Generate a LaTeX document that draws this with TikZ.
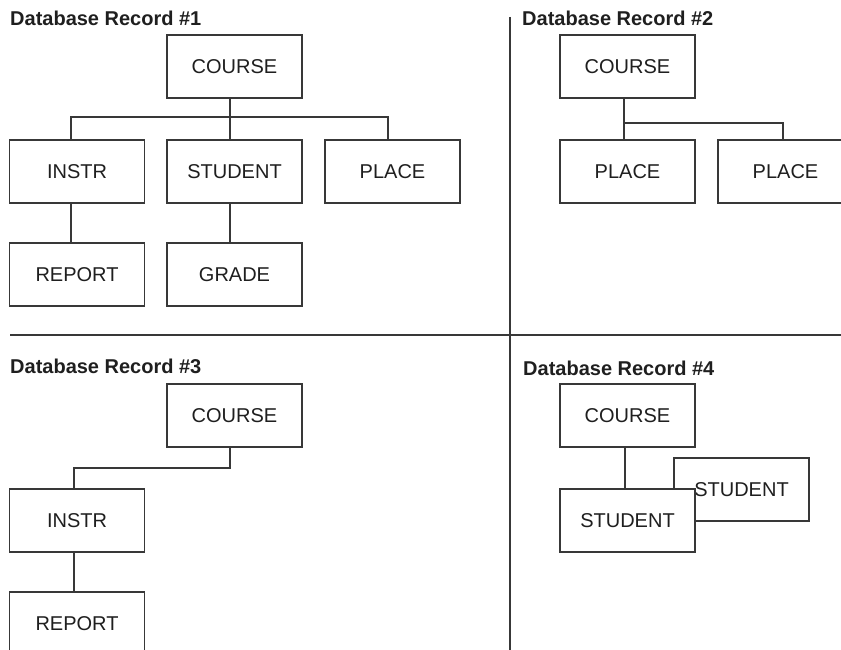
\documentclass[tikz,border=0pt]{standalone}
\usepackage{fontspec}
\setmainfont{Liberation Sans}
\begin{document}
\begin{tikzpicture}[x=1pt,y=-1pt,
  rec/.style={draw=black!78,line width=1.1pt,fill=white,minimum width=135pt,minimum height=63pt,inner sep=0pt,font=\fontsize{20}{24}\selectfont,text=black!88},
  title/.style={anchor=base west,inner sep=0pt,font=\fontsize{20}{24}\selectfont\bfseries,text=black!88},
  link/.style={draw=black!78,line width=1.1pt},
  divider/.style={draw=black!78,line width=1.1pt}]
\useasboundingbox (0,0) rectangle (841,650);
\clip (0,0) rectangle (841,650);
% dividers
\coordinate (hl) at (10,335);
\coordinate (hr) at (841,335);
\coordinate (vt) at (510,17);
\coordinate (vb) at (510,650);
\draw[divider] (hl) -- (hr);
\draw[divider] (vt) -- (vb);
% ---------- Record 1
\node[title] (t1) at (10,26) {Database Record \#1};
\node[rec] (c1) at (234.5,66.5) {COURSE};
\node[rec] (i1) at (77,171.5) {INSTR};
\node[rec] (s1) at (234.5,171.5) {STUDENT};
\node[rec] (p1) at (392.5,171.5) {PLACE};
\node[rec] (r1) at (77,274.5) {REPORT};
\node[rec] (g1) at (234.5,274.5) {GRADE};
\coordinate (m1) at (230,117);
\coordinate (l1) at (71,117);
\coordinate (q1) at (388,117);
\draw[link] (c1.south -| m1) -- (s1.north -| m1);
\draw[link] (i1.north -| l1) -- (l1) -- (q1) -- (p1.north -| q1);
\draw[link] (i1.south -| l1) -- (r1.north -| l1);
\draw[link] (s1.south -| m1) -- (g1.north -| m1);
% ---------- Record 2
\node[title] (t2) at (522,26) {Database Record \#2};
\node[rec] (c2) at (627.5,66.5) {COURSE};
\node[rec] (pa2) at (627.5,171.5) {PLACE};
\node[rec] (pb2) at (785.5,171.5) {PLACE};
\coordinate (m2) at (624,123);
\coordinate (q2) at (783,123);
\draw[link] (c2.south -| m2) -- (pa2.north -| m2);
\draw[link] (m2) -- (q2) -- (pb2.north -| q2);
% ---------- Record 3
\node[title] (t3) at (10,373) {Database Record \#3};
\node[rec] (c3) at (234.5,415.5) {COURSE};
\node[rec] (i3) at (77,520.5) {INSTR};
\node[rec] (r3) at (77,623.5) {REPORT};
\coordinate (m3) at (230,468);
\coordinate (l3) at (74,468);
\draw[link] (c3.south -| m3) -- (m3) -- (l3) -- (i3.north -| l3);
\draw[link] (i3.south -| l3) -- (r3.north -| l3);
% ---------- Record 4
\node[title] (t4) at (523,375) {Database Record \#4};
\node[rec] (c4) at (627.5,415.5) {COURSE};
\node[rec] (sb4) at (741.5,489.5) {STUDENT};
\coordinate (m4) at (625,468);
\draw[link] (c4.south -| m4) -- (m4) -- ++(0,22);
\node[rec] (sa4) at (627.5,520.5) {STUDENT};
\end{tikzpicture}
\end{document}
